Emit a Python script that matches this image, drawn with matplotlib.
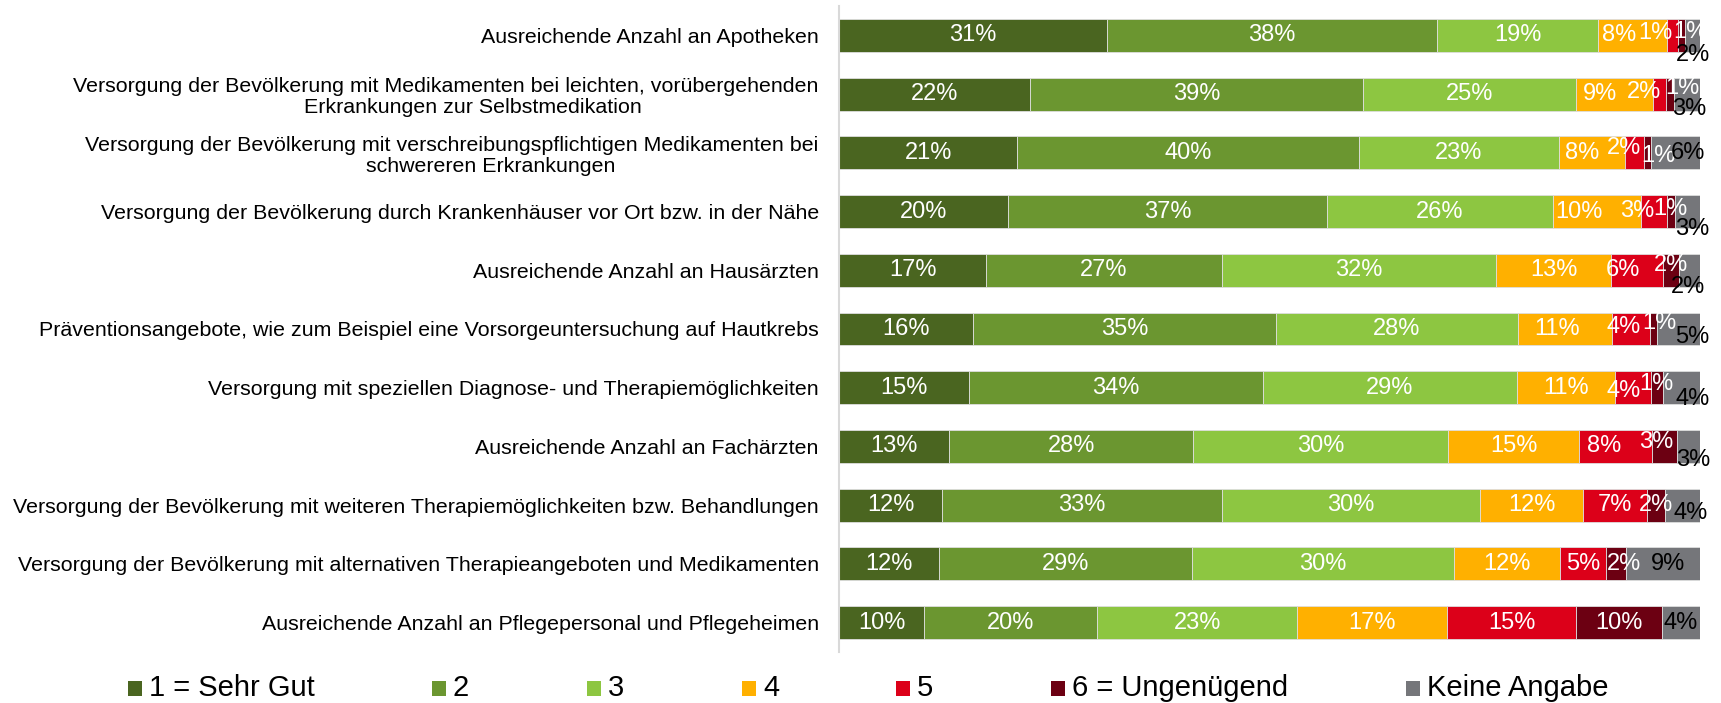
import matplotlib

matplotlib.use("Agg")
import matplotlib.pyplot as plt
from matplotlib.patches import Rectangle
import numpy as np


# the wrapped labels in the original sit a bit right of centre; leading spaces reproduce that
CATEGORIES = [
    "Ausreichende Anzahl an Apotheken",
    "Versorgung der Bevölkerung mit Medikamenten bei leichten, vorübergehenden\n"
    + " " * 9 + "Erkrankungen zur Selbstmedikation",
    "Versorgung der Bevölkerung mit verschreibungspflichtigen Medikamenten bei\n"
    + " " * 13 + "schwereren Erkrankungen",
    "Versorgung der Bevölkerung durch Krankenhäuser vor Ort bzw. in der Nähe",
    "Ausreichende Anzahl an Hausärzten",
    "Präventionsangebote, wie zum Beispiel eine Vorsorgeuntersuchung auf Hautkrebs",
    "Versorgung mit speziellen Diagnose- und Therapiemöglichkeiten",
    "Ausreichende Anzahl an Fachärzten",
    "Versorgung der Bevölkerung mit weiteren Therapiemöglichkeiten bzw. Behandlungen",
    "Versorgung der Bevölkerung mit alternativen Therapieangeboten und Medikamenten",
    "Ausreichende Anzahl an Pflegepersonal und Pflegeheimen",
]

SEHR_GUT = [31.1, 22.2, 20.7, 19.6, 17.1, 15.6, 15.0, 12.8, 12.0, 11.6, 9.9]
NOTE_2 = [38.3, 38.6, 39.7, 37.0, 27.3, 35.2, 34.1, 28.3, 32.6, 29.3, 20.1]
NOTE_3 = [18.7, 24.7, 23.2, 26.2, 31.8, 28.1, 29.4, 29.6, 30.0, 30.4, 23.2]
NOTE_4 = [8.0, 8.9, 7.7, 10.3, 13.4, 11.0, 11.4, 15.2, 12.0, 12.4, 17.4]
NOTE_5 = [1.3, 1.6, 2.2, 3.0, 6.0, 4.4, 4.1, 8.4, 7.4, 5.3, 15.0]
UNGENUEGEND = [0.8, 0.9, 0.8, 0.9, 1.9, 0.8, 1.4, 2.9, 2.1, 2.3, 10.0]
KEINE_ANGABE = [1.7, 3.0, 5.7, 2.9, 2.4, 5.0, 4.3, 2.7, 4.1, 8.6, 4.4]

SERIES_LABELS = ["1 = Sehr Gut", "2", "3", "4", "5", "6 = Ungenügend", "Keine Angabe"]
COLORS = ["#4a6520", "#6b9630", "#8dc641", "#ffb000", "#dc0019", "#6c0012", "#75767a"]
TEXT_COLORS = ["white"] * 6 + ["black"]

# Excel nudged the crowded data labels; (row, series): (dx, dy) in pixels, dy downwards
LABEL_SHIFT = {
    (0, 3): (-14, 0), (0, 4): (-17, -2), (0, 5): (8, -3), (0, 6): (0, 20),
    (1, 3): (-14, 0), (1, 4): (-15, -2), (1, 5): (12, -6), (1, 6): (2, 15),
    (2, 3): (-10, 0), (2, 4): (-11, -5), (2, 5): (11, 3), (2, 6): (12, 0),
    (3, 3): (-18, 0), (3, 4): (-17, -1), (3, 5): (-1, -3), (3, 6): (5, 17),
    (4, 4): (-14, 0), (4, 5): (0, -5), (4, 6): (-2, 17),
    (5, 3): (-8, 0), (5, 4): (-8, -2), (5, 5): (6, -6), (5, 6): (14, 8),
    (6, 4): (-9, 3), (6, 5): (0, -4), (6, 6): (11, 11),
    (7, 4): (-11, 0), (7, 5): (-8, -4), (7, 6): (5, 14),
    (8, 6): (8, 8),
    (9, 5): (8, 0), (9, 6): (5, 0),
}

W, H = 1721, 703


def main() -> None:
    plt.rcParams.update(
        {
            "font.family": ["Liberation Sans", "DejaVu Sans"],
            "font.size": 15,
        }
    )
    series = np.array(
        [SEHR_GUT, NOTE_2, NOTE_3, NOTE_4, NOTE_5, UNGENUEGEND, KEINE_ANGABE]
    )
    totals = series.sum(axis=0)
    shares = series / totals * 100

    fig = plt.figure(figsize=(W / 100, H / 100), dpi=100)
    ax = fig.add_axes([839 / W, (H - 652) / H, 861 / W, 646 / H])
    y = np.arange(len(CATEGORIES))
    left = np.zeros(len(CATEGORIES))
    for i, (label, color) in enumerate(zip(SERIES_LABELS, COLORS)):
        ax.barh(
            y,
            shares[i],
            left=left,
            height=0.56,
            color=color,
            edgecolor="#dedede",
            linewidth=0.6,
            label=label,
        )
        for r in range(len(CATEGORIES)):
            dx, dy = LABEL_SHIFT.get((r, i), (0, 0))
            ax.annotate(
                f"{series[i][r]:.0f}%",
                xy=(left[r] + shares[i][r] / 2, y[r]),
                xytext=(dx, -dy),
                textcoords="offset pixels",
                ha="center",
                va="center",
                color=TEXT_COLORS[i],
                fontsize=17,
                annotation_clip=False,
            )
        left += shares[i]

    ax.set_xlim(0, 100)
    ax.set_ylim(len(CATEGORIES) - 0.5, -0.5)
    ax.set_yticks(y)
    ax.set_yticklabels(CATEGORIES, multialignment="center", linespacing=1.15)
    ax.tick_params(axis="y", length=0, pad=14.5, labelsize=15.4)
    ax.set_xticks([])
    for side in ["top", "right", "bottom"]:
        ax.spines[side].set_visible(False)
    ax.spines["left"].set_color("#d9d9d9")
    ax.spines["left"].set_linewidth(1.5)

    # legend row, spaced as in the original export
    legend_x = [128, 432, 587, 742, 896, 1051, 1406]
    for x, label, color in zip(legend_x, SERIES_LABELS, COLORS):
        fig.patches.append(
            Rectangle(
                (x / W, (H - 696) / H),
                14 / W,
                15 / H,
                transform=fig.transFigure,
                facecolor=color,
                edgecolor="none",
            )
        )
        fig.text((x + 21) / W, (H - 688) / H, label, fontsize=21, va="center", ha="left")

    fig.savefig("out.png", dpi=100)
    plt.close(fig)


if __name__ == "__main__":
    main()
